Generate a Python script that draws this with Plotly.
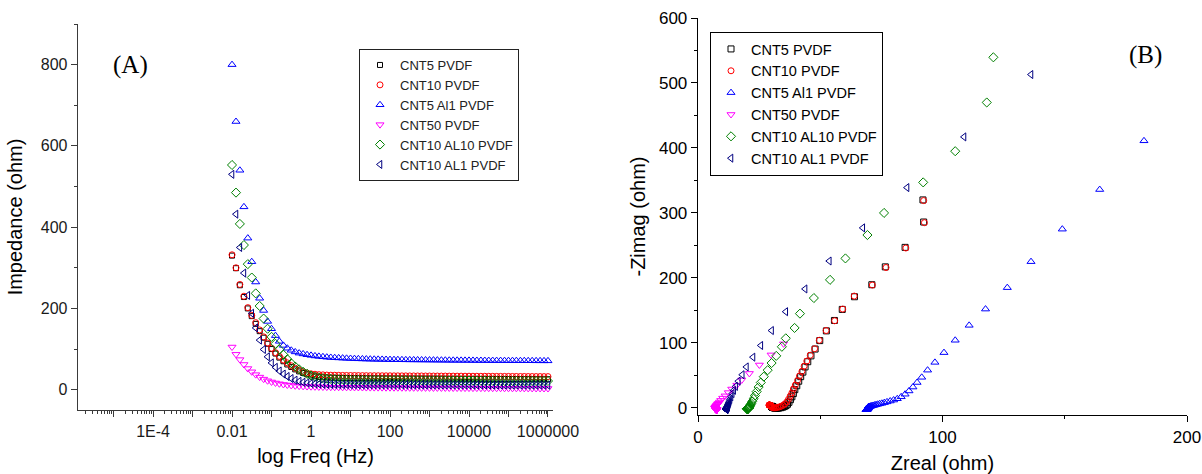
import plotly.graph_objects as go

# ---------------- data ----------------
SERIES = ["CNT5 PVDF", "CNT10 PVDF", "CNT5 Al1 PVDF", "CNT50 PVDF", "CNT10 AL10 PVDF", "CNT10 AL1 PVDF"]

FREQ_HZ = [0.01, 0.0126, 0.0158, 0.02, 0.0251, 0.0316, 0.0398, 0.0501, 0.0631, 0.0794,
           0.1, 0.126, 0.158, 0.2, 0.251, 0.316, 0.398, 0.501, 0.631, 0.794,
           1, 1.26, 1.58, 2, 2.51, 3.16, 3.98, 5.01, 6.31, 7.94,
           10, 12.6, 15.8, 20, 25.1, 31.6, 39.8, 50.1, 63.1, 79.4,
           100, 126, 158, 200, 251, 316, 398, 501, 631, 794,
           1000, 1260, 1580, 2000, 2510, 3160, 3980, 5010, 6310, 7940,
           10000, 12600, 15800, 20000, 25100, 31600, 39800, 50100, 63100, 79400,
           100000, 126000, 158000, 200000, 251000, 316000, 398000, 501000, 631000, 794000,
           1000000]

# Panel A: impedance magnitude (ohm)
Z_CNT5 = [330, 299, 257, 228, 200, 181, 162, 144, 128, 113,
          100, 89, 79, 70, 62, 56, 50, 45, 41, 38,
          35, 33, 31.5, 30.5, 30, 29.5, 29.2, 29, 28.8, 28.6,
          28.5, 28.4, 28.3, 28.2, 28.1, 28, 28, 27.9, 27.9, 27.8,
          27.8, 27.7, 27.7, 27.6, 27.6, 27.5, 27.5, 27.4, 27.4, 27.3,
          27.3, 27.2, 27.2, 27.1, 27.1, 27, 27, 26.9, 26.9, 26.8,
          26.8, 26.7, 26.7, 26.6, 26.6, 26.5, 26.5, 26.4, 26.4, 26.3,
          26.3, 26.2, 26.2, 26.1, 26.1, 26, 26, 25.9, 25.9, 25.8, 25.8]
Z_CNT10 = [332, 300, 259, 230, 202, 183, 165, 147, 130, 115,
           102, 91, 82, 73, 66, 59, 53, 48, 44, 41,
           39, 38, 37, 36.5, 36, 35.7, 35.5, 35.3, 35.1, 35,
           34.9, 34.8, 34.7, 34.6, 34.5, 34.4, 34.4, 34.3, 34.3, 34.2,
           34.2, 34.1, 34.1, 34, 34, 33.9, 33.9, 33.8, 33.8, 33.7,
           33.7, 33.6, 33.6, 33.5, 33.5, 33.4, 33.4, 33.3, 33.3, 33.2,
           33.2, 33.1, 33.1, 33, 33, 32.9, 32.9, 32.8, 32.8, 32.7,
           32.7, 32.6, 32.6, 32.5, 32.5, 32.4, 32.4, 32.3, 32.3, 32.2, 32.2]
Z_CNT5_AL1 = [800, 660, 540, 450, 373, 315, 265, 225, 195, 168,
              150, 133, 119, 109, 102, 97, 93, 90, 88, 86,
              84.5, 83, 82, 81, 80, 79.3, 78.7, 78.2, 77.7, 77.2,
              76.8, 76.4, 76, 75.7, 75.4, 75.1, 74.9, 74.7, 74.5, 74.3,
              74.1, 73.9, 73.8, 73.6, 73.5, 73.4, 73.3, 73.2, 73.1, 73,
              72.9, 72.8, 72.7, 72.6, 72.5, 72.4, 72.3, 72.3, 72.2, 72.1,
              72.1, 72, 71.9, 71.9, 71.8, 71.7, 71.7, 71.6, 71.6, 71.5,
              71.5, 71.4, 71.4, 71.3, 71.3, 71.2, 71.2, 71.1, 71.1, 71, 71]
Z_CNT50 = [105, 87, 74, 62, 52, 44, 37, 31, 26, 22,
           19, 16.5, 14.5, 12.8, 11.5, 10.4, 9.5, 8.8, 8.2, 7.7,
           7.3, 7, 6.7, 6.5, 6.3, 6.1, 6, 5.9, 5.8, 5.7,
           5.6, 5.5, 5.4, 5.3, 5.2, 5.1, 5.1, 5, 5, 4.9,
           4.9, 4.8, 4.8, 4.7, 4.7, 4.6, 4.6, 4.5, 4.5, 4.4,
           4.4, 4.3, 4.3, 4.2, 4.2, 4.1, 4.1, 4, 4, 3.9,
           3.9, 3.8, 3.8, 3.7, 3.7, 3.6, 3.6, 3.5, 3.5, 3.4,
           3.4, 3.3, 3.3, 3.2, 3.2, 3.1, 3.1, 3, 3, 2.9, 2.9]
Z_CNT10_AL10 = [553, 485, 408, 356, 309, 276, 237, 206, 175, 150,
                130, 113, 99, 86, 75, 65, 57, 50, 44, 39,
                35, 32, 30, 28.5, 27.3, 26.5, 25.9, 25.4, 25, 24.7,
                24.5, 24.3, 24.1, 24, 23.9, 23.8, 23.7, 23.6, 23.5, 23.4,
                23.4, 23.3, 23.3, 23.2, 23.2, 23.1, 23.1, 23, 23, 22.9,
                22.9, 22.8, 22.8, 22.7, 22.7, 22.6, 22.6, 22.5, 22.5, 22.4,
                22.4, 22.3, 22.3, 22.2, 22.2, 22.1, 22.1, 22, 22, 21.9,
                21.9, 21.8, 21.8, 21.7, 21.7, 21.6, 21.6, 21.5, 21.5, 21.4, 21.4]
Z_CNT10_AL1 = [530, 432, 350, 287, 232, 188, 152, 122, 99, 81,
               66, 55, 46, 38.5, 32.5, 27.5, 23.5, 20.5, 18.3, 16.6,
               15.4, 14.5, 13.9, 13.5, 13.2, 13, 12.8, 12.7, 12.6, 12.5,
               12.4, 12.4, 12.3, 12.3, 12.2, 12.2, 12.2, 12.1, 12.1, 12.1,
               12.1, 12, 12, 12, 12, 11.9, 11.9, 11.9, 11.9, 11.8,
               11.8, 11.8, 11.8, 11.7, 11.7, 11.7, 11.7, 11.6, 11.6, 11.6,
               11.6, 11.5, 11.5, 11.5, 11.5, 11.4, 11.4, 11.4, 11.4, 11.3,
               11.3, 11.3, 11.3, 11.2, 11.2, 11.2, 11.2, 11.1, 11.1, 11.1, 11.1]

# Panel B: Nyquist data (Zreal, -Zimag in ohm)
ZRE_CNT5 = [92.0, 92.3, 84.7, 76.6, 71.1, 64.0, 59.0, 55.8, 52.5, 49.8,
            47.9, 46.2, 44.9, 43.8, 42.9, 42.0, 41.2, 40.4, 39.6, 39.0,
            38.4, 37.8, 37.2, 36.6, 36.0, 35.3, 34.6, 33.9, 33.2, 32.6,
            32.1, 31.7, 31.4, 31.2, 31.0, 30.9, 30.8, 30.8, 30.7, 30.7,
            30.7, 30.6, 30.6, 30.6, 30.6, 30.5, 30.5, 30.5, 30.5, 30.5,
            30.5, 30.5, 30.4, 30.4, 30.4, 30.4, 30.4, 30.4, 30.4, 30.4,
            30.4, 30.4, 30.3, 30.3, 30.3, 30.3, 30.3, 30.3, 30.3, 30.3,
            30.3, 30.3, 30.3, 30.2, 30.2, 30.2, 30.2, 30.2, 30.2, 30.2, 30.2]
ZIM_CNT5 = [320, 286, 247, 217, 189.5, 171, 151.5, 134.5, 118.5, 103.5,
            90.5, 80, 71, 63, 55, 48, 41, 34, 28, 22,
            17, 12.5, 8.5, 5.5, 3.5, 2, 1, 0.3, -0.2, -0.5,
            -0.6, -0.5, -0.3, 0, 0.3, 0.5, 0.7, 0.9, 1.0, 1.1,
            1.2, 1.2, 1.3, 1.3, 1.4, 1.4, 1.4, 1.5, 1.5, 1.5,
            1.6, 1.6, 1.6, 1.6, 1.7, 1.7, 1.7, 1.7, 1.8, 1.8,
            1.8, 1.8, 1.8, 1.9, 1.9, 1.9, 1.9, 1.9, 2.0, 2.0,
            2.0, 2.0, 2.0, 2.1, 2.1, 2.1, 2.1, 2.1, 2.2, 2.2, 2.2]
ZRE_CNT10 = [92.3, 92.6, 85.0, 76.9, 71.3, 63.9, 59.2, 55.9, 52.4, 49.6,
             47.7, 45.9, 44.5, 43.4, 42.5, 41.5, 40.7, 39.8, 39.0, 38.4,
             37.7, 37.0, 36.3, 35.5, 34.8, 34.0, 33.3, 32.6, 32.0, 31.5,
             31.0, 30.6, 30.3, 30.1, 30.0, 29.9, 29.9, 29.8, 29.8, 29.8,
             29.7, 29.7, 29.7, 29.7, 29.6, 29.6, 29.6, 29.6, 29.6, 29.5,
             29.5, 29.5, 29.5, 29.5, 29.5, 29.4, 29.4, 29.4, 29.4, 29.4,
             29.4, 29.4, 29.3, 29.3, 29.3, 29.3, 29.3, 29.3, 29.3, 29.3,
             29.2, 29.2, 29.2, 29.2, 29.2, 29.2, 29.2, 29.2, 29.1, 29.1, 29.1]
ZIM_CNT10 = [319, 285, 246, 216, 189, 172, 152, 134, 119, 104,
             91, 81, 72, 64, 56, 49, 42, 35, 29, 23,
             18, 13, 9, 6, 4, 2.5, 1.5, 0.8, 0.3, 0,
             0, 0.3, 0.8, 1.3, 1.8, 2.2, 2.5, 2.8, 3.0, 3.2,
             3.3, 3.4, 3.5, 3.5, 3.6, 3.6, 3.7, 3.7, 3.7, 3.8,
             3.8, 3.8, 3.8, 3.9, 3.9, 3.9, 3.9, 3.9, 4.0, 4.0,
             4.0, 4.0, 4.0, 4.0, 4.1, 4.1, 4.1, 4.1, 4.1, 4.1,
             4.1, 4.2, 4.2, 4.2, 4.2, 4.2, 4.2, 4.2, 4.2, 4.3, 4.3]
# (the three lowest-frequency CNT5 Al1 points lie above the plotted range)
ZRE_CNT5_AL1 = [182.4, 164.3, 149.0, 136.2, 126.5, 117.6, 110.9, 105.2, 100.6, 96.9,
                93.9, 91.5, 89.6, 87.9, 86.3, 84.7, 83.1, 81.5, 80.0, 78.6,
                77.3, 76.2, 75.2, 74.3, 73.5, 72.8, 72.2, 71.7, 71.2, 70.8,
                70.5, 70.2, 70.0, 69.9, 69.8, 69.7, 69.7, 69.6, 69.6, 69.5,
                69.5, 69.5, 69.4, 69.4, 69.4, 69.4, 69.3, 69.3, 69.3, 69.3,
                69.3, 69.2, 69.2, 69.2, 69.2, 69.2, 69.2, 69.1, 69.1, 69.1,
                69.1, 69.1, 69.1, 69.1, 69.0, 69.0, 69.0, 69.0, 69.0, 69.0,
                69.0, 69.0, 68.9, 68.9, 68.9, 68.9, 68.9, 68.9]
ZIM_CNT5_AL1 = [411, 336, 275, 225, 185, 152, 127, 104, 85, 70,
                58, 47, 39, 32, 26, 21, 17, 14, 12, 10.5,
                9.2, 8.0, 7.0, 6.2, 5.5, 4.8, 4.2, 3.7, 3.2, 2.8,
                2.4, 2.0, 1.7, 1.4, 1.2, 1.0, 0.8, 0.6, 0.4, 0.2,
                0.0, -0.2, -0.4, -0.5, -0.7, -0.8, -0.9, -1.0, -1.1, -1.2,
                -1.3, -1.4, -1.5, -1.5, -1.6, -1.7, -1.7, -1.8, -1.8, -1.9,
                -1.9, -2.0, -2.0, -2.1, -2.1, -2.1, -2.2, -2.2, -2.2, -2.3,
                -2.3, -2.3, -2.4, -2.4, -2.4, -2.5, -2.5, -2.5]
ZRE_CNT50 = [35.0, 29.9, 25.1, 21.0, 17.9, 15.9, 13.8, 12.4, 11.1, 10.1,
             9.3, 8.8, 8.3, 8.0, 7.7, 7.5, 7.4, 7.3, 7.2, 7.1,
             7.1, 7.0, 7.0, 7.0, 7.0, 7.0, 7.0, 7.0, 7.0, 7.1,
             7.1, 7.1, 7.1, 7.1, 7.1, 7.2, 7.2, 7.2, 7.2, 7.2,
             7.2, 7.3, 7.3, 7.3, 7.3, 7.3, 7.3, 7.3, 7.4, 7.4,
             7.4, 7.4, 7.4, 7.4, 7.4, 7.4, 7.5, 7.5, 7.5, 7.5,
             7.5, 7.5, 7.5, 7.5, 7.5, 7.6, 7.6, 7.6, 7.6, 7.6,
             7.6, 7.6, 7.6, 7.6, 7.6, 7.7, 7.7, 7.7, 7.7, 7.7, 7.7]
ZIM_CNT50 = [98.5, 81.5, 66, 53, 43, 35, 29, 23.5, 18.5, 15,
             11.5, 9, 7, 5.5, 4.3, 3.3, 2.5, 1.8, 1.2, 0.8,
             0.4, 0.1, -0.2, -0.4, -0.6, -0.8, -1.0, -1.1, -1.2, -1.3,
             -1.4, -1.5, -1.6, -1.7, -1.8, -1.8, -1.9, -2.0, -2.0, -2.1,
             -2.1, -2.2, -2.2, -2.2, -2.3, -2.3, -2.3, -2.4, -2.4, -2.4,
             -2.5, -2.5, -2.5, -2.5, -2.6, -2.6, -2.6, -2.6, -2.7, -2.7,
             -2.7, -2.7, -2.7, -2.8, -2.8, -2.8, -2.8, -2.8, -2.9, -2.9,
             -2.9, -2.9, -2.9, -2.9, -3.0, -3.0, -3.0, -3.0, -3.0, -3.0, -3.1]
ZRE_CNT10_AL10 = [120.8, 118.1, 105.2, 92.1, 76.1, 69.3, 60.3, 54.0, 47.4, 41.7,
                  39.5, 35.9, 34.3, 32.0, 30.1, 28.5, 26.9, 25.7, 24.8, 24.0,
                  23.3, 22.7, 22.2, 21.8, 21.5, 21.3, 21.1, 21.0, 20.9, 20.8,
                  20.8, 20.7, 20.7, 20.7, 20.6, 20.6, 20.6, 20.6, 20.6, 20.5,
                  20.5, 20.5, 20.5, 20.5, 20.5, 20.5, 20.4, 20.4, 20.4, 20.4,
                  20.4, 20.4, 20.4, 20.4, 20.4, 20.3, 20.3, 20.3, 20.3, 20.3,
                  20.3, 20.3, 20.3, 20.3, 20.3, 20.3, 20.2, 20.2, 20.2, 20.2,
                  20.2, 20.2, 20.2, 20.2, 20.2, 20.2, 20.2, 20.1, 20.1, 20.1, 20.1]
ZIM_CNT10_AL10 = [539.5, 470, 395, 347, 300, 266, 230, 197, 169, 145,
                  123, 107, 94, 80, 69, 58, 48, 39, 32, 25,
                  19, 14, 10, 7, 5, 3.5, 2.5, 1.8, 1.2, 0.8,
                  0.5, 0.2, 0.0, -0.2, -0.3, -0.4, -0.5, -0.6, -0.7, -0.7,
                  -0.8, -0.8, -0.9, -0.9, -1.0, -1.0, -1.0, -1.1, -1.1, -1.1,
                  -1.2, -1.2, -1.2, -1.2, -1.3, -1.3, -1.3, -1.3, -1.3, -1.4,
                  -1.4, -1.4, -1.4, -1.4, -1.4, -1.5, -1.5, -1.5, -1.5, -1.5,
                  -1.5, -1.5, -1.6, -1.6, -1.6, -1.6, -1.6, -1.6, -1.6, -1.6, -1.7]
ZRE_CNT10_AL1 = [136.2, 108.8, 85.5, 67.4, 53.7, 43.8, 35.9, 30.1, 25.7, 22.5,
                 19.8, 18.1, 16.5, 15.4, 14.6, 14.0, 13.5, 13.1, 12.8, 12.6,
                 12.4, 12.3, 12.2, 12.1, 12.1, 12.0, 12.0, 11.9, 11.9, 11.9,
                 11.9, 11.8, 11.8, 11.8, 11.8, 11.8, 11.8, 11.7, 11.7, 11.7,
                 11.7, 11.7, 11.7, 11.7, 11.7, 11.6, 11.6, 11.6, 11.6, 11.6,
                 11.6, 11.6, 11.6, 11.6, 11.6, 11.6, 11.5, 11.5, 11.5, 11.5,
                 11.5, 11.5, 11.5, 11.5, 11.5, 11.5, 11.5, 11.5, 11.4, 11.4,
                 11.4, 11.4, 11.4, 11.4, 11.4, 11.4, 11.4, 11.4, 11.4, 11.4, 11.4]
ZIM_CNT10_AL1 = [513, 417, 339, 277, 226, 183, 148, 119, 96, 78,
                 63, 51, 41, 33, 27, 22, 17, 13, 10, 8,
                 6, 5, 4, 3, 2.5, 2, 1.6, 1.3, 1.1, 0.9,
                 0.7, 0.5, 0.3, 0.1, 0.0, -0.1, -0.2, -0.3, -0.4, -0.5,
                 -0.6, -0.6, -0.7, -0.8, -0.8, -0.9, -0.9, -1.0, -1.0, -1.1,
                 -1.1, -1.2, -1.2, -1.2, -1.3, -1.3, -1.3, -1.4, -1.4, -1.4,
                 -1.5, -1.5, -1.5, -1.6, -1.6, -1.6, -1.7, -1.7, -1.7, -1.7,
                 -1.8, -1.8, -1.8, -1.8, -1.9, -1.9, -1.9, -1.9, -2.0, -2.0, -2.0]

A_VALUES = [Z_CNT5, Z_CNT10, Z_CNT5_AL1, Z_CNT50, Z_CNT10_AL10, Z_CNT10_AL1]
B_REAL = [ZRE_CNT5, ZRE_CNT10, ZRE_CNT5_AL1, ZRE_CNT50, ZRE_CNT10_AL10, ZRE_CNT10_AL1]
B_IMAG = [ZIM_CNT5, ZIM_CNT10, ZIM_CNT5_AL1, ZIM_CNT50, ZIM_CNT10_AL10, ZIM_CNT10_AL1]

X_TICK_VALS = [1e-5, 1e-4, 1e-3, 1e-2, 1e-1, 1, 10, 100, 1e3, 1e4, 1e5, 1e6]
X_TICK_TEXT = ["", "1E-4", "", "0.01", "", "1", "", "100", "", "10000", "", "1000000"]

# ---------------- style ----------------
COLORS = ["#000000", "#ff0000", "#0000ff", "#ff00ff", "#008000", "#000080"]
SYMBOLS = ["square-open", "circle-open", "triangle-up-open", "triangle-down-open",
           "diamond-open", "triangle-left-open"]
SIZES_A = [5, 6, 7, 7, 7, 7]
SIZES_B = [6, 6, 7, 7, 7, 7]

W, H = 1202, 474
ML, MR, MT, MB = 78, 15, 18, 59
PW, PH = W - ML - MR, H - MT - MB


def px(x):
    return (x - ML) / PW


def py(y):
    return (H - MB - y) / PH


SANS = "Liberation Sans, Arial, sans-serif"
SERIF = "Liberation Serif, Times New Roman, serif"

fig = go.Figure()

for i, name in enumerate(SERIES):
    fig.add_trace(go.Scatter(
        x=FREQ_HZ, y=A_VALUES[i], mode="markers", name=name,
        xaxis="x", yaxis="y", legend="legend",
        marker=dict(symbol=SYMBOLS[i], size=SIZES_A[i], color=COLORS[i],
                    line=dict(width=1, color=COLORS[i])),
    ))

for i, name in enumerate(SERIES):
    fig.add_trace(go.Scatter(
        x=B_REAL[i], y=B_IMAG[i], mode="markers", name=name,
        xaxis="x2", yaxis="y2", legend="legend2",
        marker=dict(symbol=SYMBOLS[i], size=SIZES_B[i], color=COLORS[i],
                    line=dict(width=1, color=COLORS[i])),
    ))

minor_log = [m * 10 ** e for e in range(-6, 7) for m in range(2, 10)]

A_LINE = "#3a3a3a"
tickfont_a = dict(family=SANS, size=16, color="#1a1a1a")
tickfont_b = dict(family=SANS, size=17, color="#000000")
titlefont = dict(family=SANS, size=20, color="#000000")

xa_dom = [0, px(553)]
ya_dom = [py(410), py(24)]
xb_dom = [px(698), 1]
yb_dom = [0, 1]

fig.update_layout(
    width=W, height=H,
    margin=dict(l=ML, r=MR, t=MT, b=MB),
    paper_bgcolor="white", plot_bgcolor="white",
    showlegend=True,
    hovermode=False,
    xaxis=dict(
        type="log", domain=xa_dom, anchor="y", range=[-5.9, 6.127],
        tickmode="array", tickvals=X_TICK_VALS, ticktext=X_TICK_TEXT,
        ticks="outside", ticklen=6, tickwidth=1, tickcolor=A_LINE,
        minor=dict(tickmode="array", tickvals=minor_log, ticks="outside",
                   ticklen=3, tickcolor=A_LINE, showgrid=False),
        showline=True, linecolor=A_LINE, linewidth=1.3, showgrid=False, zeroline=False,
        tickfont=tickfont_a, automargin=False,
        title=dict(text="log Freq (Hz)", font=titlefont, standoff=10),
    ),
    yaxis=dict(
        domain=ya_dom, anchor="x", range=[-50, 900],
        tickmode="linear", tick0=0, dtick=200,
        ticks="outside", ticklen=6, tickwidth=1, tickcolor=A_LINE,
        minor=dict(dtick=100, tick0=0, ticks="outside", ticklen=3, tickcolor=A_LINE, showgrid=False),
        showline=True, linecolor=A_LINE, linewidth=1.3, showgrid=False, zeroline=False,
        tickfont=tickfont_a, automargin=False,
        title=dict(text="Impedance (ohm)", font=titlefont, standoff=12),
    ),
    xaxis3=dict(
        overlaying="x", anchor="y3", side="top", range=[0, 10],
        tickmode="linear", tick0=0, dtick=2,
        ticks="inside", ticklen=6, tickcolor=A_LINE,
        minor=dict(dtick=1, tick0=0, ticks="inside", ticklen=3, tickcolor=A_LINE, showgrid=False),
        showticklabels=False, showline=True, linecolor=A_LINE, linewidth=1.3,
        showgrid=False, zeroline=False,
    ),
    yaxis3=dict(
        overlaying="y", anchor="x3", side="right", range=[-50, 900],
        tickmode="linear", tick0=0, dtick=200,
        ticks="inside", ticklen=6, tickcolor=A_LINE,
        minor=dict(dtick=100, tick0=0, ticks="inside", ticklen=3, tickcolor=A_LINE, showgrid=False),
        showticklabels=False, showline=True, linecolor=A_LINE, linewidth=1.3,
        showgrid=False, zeroline=False,
    ),
    xaxis2=dict(
        domain=xb_dom, anchor="y2", range=[0, 200],
        tickmode="linear", tick0=0, dtick=100,
        ticks="outside", ticklen=6, tickwidth=1, tickcolor="black",
        minor=dict(dtick=50, tick0=0, ticks="outside", ticklen=3, tickcolor="black", showgrid=False),
        showline=True, linecolor="black", linewidth=1.3, showgrid=False, zeroline=False,
        tickfont=tickfont_b, automargin=False,
        title=dict(text="Zreal (ohm)", font=titlefont, standoff=10),
    ),
    yaxis2=dict(
        domain=yb_dom, anchor="x2", range=[-11, 600],
        tickmode="linear", tick0=0, dtick=100,
        ticks="outside", ticklen=6, tickwidth=1, tickcolor="black",
        minor=dict(dtick=50, tick0=0, ticks="outside", ticklen=3, tickcolor="black", showgrid=False),
        showline=True, linecolor="black", linewidth=1.3, showgrid=False, zeroline=False,
        tickfont=tickfont_b, automargin=False,
        title=dict(text="-Zimag (ohm)", font=titlefont, standoff=8),
    ),
    xaxis4=dict(
        overlaying="x2", anchor="y4", side="top", range=[0, 200],
        tickmode="linear", tick0=0, dtick=40,
        ticks="inside", ticklen=6, tickcolor="black",
        minor=dict(dtick=20, tick0=0, ticks="inside", ticklen=3, tickcolor="black", showgrid=False),
        showticklabels=False, showline=True, linecolor="black", linewidth=1.3,
        showgrid=False, zeroline=False,
    ),
    yaxis4=dict(
        overlaying="y2", anchor="x4", side="right", range=[-11, 600],
        tickmode="linear", tick0=0, dtick=100,
        ticks="inside", ticklen=6, tickcolor="black",
        minor=dict(dtick=50, tick0=0, ticks="inside", ticklen=3, tickcolor="black", showgrid=False),
        showticklabels=False, showline=True, linecolor="black", linewidth=1.3,
        showgrid=False, zeroline=False,
    ),
    legend=dict(
        x=px(359), y=py(49), xanchor="left", yanchor="top",
        bgcolor="white", bordercolor="#222222", borderwidth=1,
        font=dict(family=SANS, size=13, color="#222222"),
        tracegroupgap=0, itemclick=False, itemdoubleclick=False,
    ),
    legend2=dict(
        x=px(710), y=py(32), xanchor="left", yanchor="top",
        bgcolor="white", bordercolor="black", borderwidth=1,
        font=dict(family=SANS, size=14.5, color="black"),
        tracegroupgap=0, itemclick=False, itemdoubleclick=False,
    ),
    annotations=[
        dict(text="(A)", x=px(130), y=py(65), xref="paper", yref="paper",
             showarrow=False, xanchor="center", yanchor="middle",
             font=dict(family=SERIF, size=25, color="black")),
        dict(text="(B)", x=px(1145), y=py(55), xref="paper", yref="paper",
             showarrow=False, xanchor="center", yanchor="middle",
             font=dict(family=SERIF, size=25, color="black")),
    ],
)

fig.write_html(
    "out.html",
    config={"displayModeBar": False, "staticPlot": True},
    post_script="document.documentElement.style.margin='0';"
                "document.body.style.margin='0';"
                "document.body.style.overflow='hidden';",
)
